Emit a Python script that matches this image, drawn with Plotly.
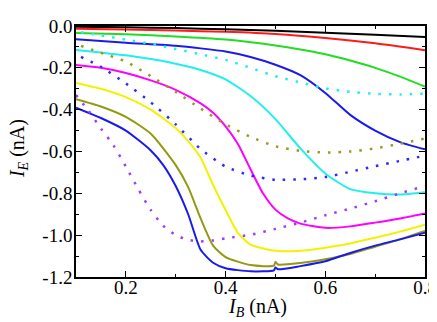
import plotly.graph_objects as go

# tick labels
x_ticks = [0.2, 0.4, 0.6, 0.8]
x_ticktext = ["0.2", "0.4", "0.6", "0.8"]
y_ticks = [0.0, -0.2, -0.4, -0.6, -0.8, -1.0, -1.2]
y_ticktext = ["0.0", "-0.2", "-0.4", "-0.6", "-0.8", "-1.0", "-1.2"]

# solid curves
x_black = [0.1, 0.2, 0.3, 0.4, 0.5, 0.6, 0.7, 0.8]
y_black = [-0.003, -0.006, -0.01, -0.016, -0.023, -0.032, -0.042, -0.053]

x_red = [0.1, 0.2, 0.3, 0.4, 0.5, 0.6, 0.7, 0.8]
y_red = [-0.013, -0.017, -0.022, -0.028, -0.038, -0.057, -0.083, -0.116]

x_green = [0.1, 0.2, 0.3, 0.4, 0.5, 0.55, 0.6, 0.65, 0.7, 0.75, 0.8]
y_green = [-0.033, -0.04, -0.05, -0.065, -0.093, -0.112, -0.135, -0.165, -0.2, -0.242, -0.29]

x_blue1 = [0.1, 0.2, 0.3, 0.35, 0.4, 0.45, 0.5, 0.55, 0.6, 0.65, 0.7, 0.75, 0.8]
y_blue1 = [-0.063, -0.08, -0.095, -0.107, -0.122, -0.148, -0.185, -0.235, -0.32, -0.425, -0.5, -0.555, -0.59]

x_cyan = [0.1, 0.15, 0.2, 0.25, 0.3, 0.35, 0.4, 0.45, 0.5, 0.55, 0.6, 0.65, 0.7, 0.75, 0.8]
y_cyan = [-0.115, -0.127, -0.14, -0.158, -0.18, -0.21, -0.255, -0.335, -0.445, -0.585, -0.705, -0.78, -0.8, -0.806, -0.795]

x_magenta = [0.1, 0.15, 0.2, 0.25, 0.3, 0.35, 0.375, 0.4, 0.425, 0.45, 0.475, 0.5, 0.525, 0.55, 0.6, 0.65, 0.7, 0.75, 0.8]
y_magenta = [-0.187, -0.2, -0.225, -0.26, -0.305, -0.37, -0.415, -0.48, -0.565, -0.685, -0.8, -0.878, -0.92, -0.945, -0.965, -0.958, -0.94, -0.92, -0.896]

x_yellow = [0.1, 0.15, 0.2, 0.25, 0.3, 0.325, 0.35, 0.375, 0.4, 0.425, 0.45, 0.5, 0.55, 0.6, 0.65, 0.7, 0.75, 0.8]
y_yellow = [-0.272, -0.3, -0.34, -0.4, -0.488, -0.55, -0.63, -0.76, -0.88, -0.99, -1.045, -1.075, -1.075, -1.06, -1.04, -1.012, -0.983, -0.95]

x_olive = [0.1, 0.15, 0.2, 0.25, 0.3, 0.325, 0.35, 0.375, 0.4, 0.45, 0.497, 0.5, 0.505, 0.55, 0.6, 0.65, 0.7, 0.75, 0.8]
y_olive = [-0.35, -0.385, -0.435, -0.515, -0.665, -0.77, -0.92, -1.05, -1.105, -1.143, -1.146, -1.128, -1.14, -1.133, -1.115, -1.09, -1.055, -1.02, -0.98]

x_blue2 = [0.1, 0.15, 0.2, 0.25, 0.275, 0.3, 0.325, 0.35, 0.375, 0.4, 0.45, 0.497, 0.5, 0.505, 0.55, 0.6, 0.65, 0.7, 0.75, 0.8]
y_blue2 = [-0.39, -0.44, -0.5, -0.595, -0.665, -0.765, -0.9, -1.07, -1.132, -1.158, -1.173, -1.168, -1.155, -1.163, -1.148, -1.125, -1.085, -1.05, -1.02, -0.988]

# dotted curves
x_dot = [0.11, 0.15, 0.2, 0.25, 0.3, 0.35, 0.4, 0.45, 0.5, 0.55, 0.6, 0.65, 0.7, 0.75, 0.8]
y_cyan_dot = [-0.03, -0.045, -0.065, -0.085, -0.11, -0.135, -0.162, -0.2, -0.24, -0.27, -0.298, -0.315, -0.324, -0.327, -0.323]
y_olive_dot = [-0.095, -0.128, -0.17, -0.24, -0.315, -0.395, -0.47, -0.53, -0.575, -0.597, -0.605, -0.6, -0.585, -0.563, -0.538]
y_blue_dot = [-0.148, -0.195, -0.275, -0.365, -0.47, -0.588, -0.672, -0.715, -0.735, -0.733, -0.722, -0.697, -0.67, -0.645, -0.62]

x_purple_dot = [0.1, 0.125, 0.15, 0.175, 0.2, 0.225, 0.25, 0.275, 0.3, 0.325, 0.35, 0.375, 0.4, 0.45, 0.5, 0.55, 0.6, 0.65, 0.7, 0.75, 0.8]
y_purple_dot = [-0.33, -0.405, -0.49, -0.57, -0.672, -0.78, -0.88, -0.955, -1.0, -1.022, -1.03, -1.025, -1.015, -0.998, -0.97, -0.94, -0.905, -0.873, -0.838, -0.8, -0.765]

fig = go.Figure()

solid = [
    (x_black, y_black, "#000000"),
    (x_red, y_red, "#ff1a1a"),
    (x_green, y_green, "#22dd22"),
    (x_blue1, y_blue1, "#1a1aee"),
    (x_cyan, y_cyan, "#22eeee"),
    (x_magenta, y_magenta, "#ff00ff"),
    (x_yellow, y_yellow, "#f2f200"),
    (x_olive, y_olive, "#939a10"),
    (x_blue2, y_blue2, "#1a1aee"),
]
for xs, ys, c in solid:
    fig.add_trace(go.Scatter(x=xs, y=ys, mode="lines",
                             line=dict(color=c, width=2, shape="spline", smoothing=0.6)))

dotted = [
    (x_dot, y_cyan_dot, "#22eeee"),
    (x_dot, y_olive_dot, "#999920"),
    (x_dot, y_blue_dot, "#2a2aff"),
    (x_purple_dot, y_purple_dot, "#9b3dff"),
]
for xs, ys, c in dotted:
    fig.add_trace(go.Scatter(x=xs, y=ys, mode="lines",
                             line=dict(color=c, width=2.5, dash="2.5px,8px",
                                       shape="spline", smoothing=0.6)))

font = dict(family="Times New Roman, Liberation Serif, serif", size=20, color="black")
tick_font = dict(family="Times New Roman, Liberation Serif, serif", size=19, color="black")
axis_common = dict(showline=True, linecolor="black", linewidth=1.5, mirror="ticks",
                   ticks="inside", ticklen=6, tickwidth=1.2, tickcolor="black",
                   showgrid=False, zeroline=False, tickfont=tick_font,
                   ticklabeloverflow="allow",
                   minor=dict(ticks="inside", ticklen=3, tickwidth=1, tickcolor="black", dtick=0.1))

fig.update_layout(
    width=437, height=322,
    margin=dict(l=68, r=12, t=8, b=53),
    plot_bgcolor="white", paper_bgcolor="white",
    showlegend=False,
    xaxis=dict(range=[0.1, 0.8], tickvals=x_ticks, ticktext=x_ticktext,
               ticklabelstandoff=-8, **axis_common),
    yaxis=dict(range=[-1.2, 0.0], tickvals=y_ticks, ticktext=y_ticktext,
               ticklabelstandoff=-2, **axis_common),
    annotations=[
        dict(text="<i>I</i><sub><i>B</i></sub> (nA)", font=font, showarrow=False,
             xref="paper", yref="paper", x=0.521, y=-0.12,
             xanchor="center", yanchor="middle"),
        dict(text="<i>I</i><sub><i>E</i></sub> (nA)", font=font, showarrow=False,
             xref="paper", yref="paper", x=-0.163, y=0.51, textangle=-90,
             xanchor="center", yanchor="middle"),
    ],
)

fig.write_html("out.html")
